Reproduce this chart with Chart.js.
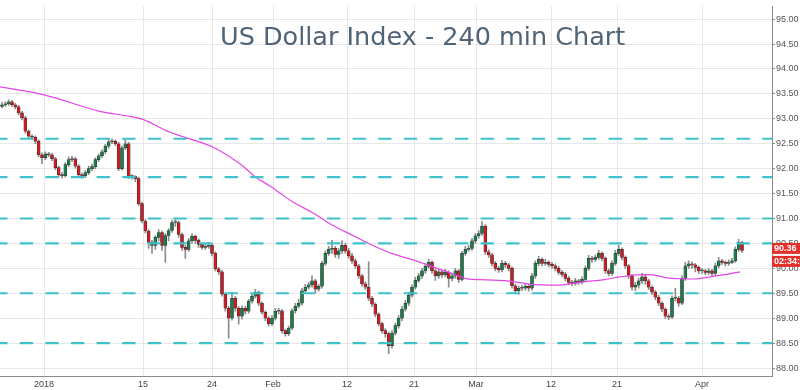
<!DOCTYPE html>
<html>
<head>
<meta charset="utf-8">
<script src="https://cdn.jsdelivr.net/npm/chart.js@4.4.1/dist/chart.umd.min.js"></script>
<style>
  html, body { margin:0; padding:0; background:#ffffff; }
  #wrap { position:relative; width:800px; height:390px; overflow:hidden; }
  #title { position:absolute; left:220px; top:24px; font-family:"DejaVu Sans", Verdana, sans-serif; font-size:25.5px; line-height:25px; color:#4f6477; white-space:nowrap; pointer-events:none; }
</style>
</head>
<body>
<div id="wrap">
  <canvas id="c" width="800" height="390"></canvas>
  <div id="title">US Dollar Index - 240 min Chart</div>
</div>
<script>
// ---- Data ----
const opens = [
93.25,93.28,93.30,93.34,93.28,93.24,93.12,93.02,92.75,92.65,92.63,92.55,92.28,92.22,92.30,92.28,92.20,92.02,91.88,91.86,
92.08,92.18,92.20,92.05,91.88,91.86,91.92,92.00,92.04,92.18,92.26,92.34,92.45,92.54,92.55,92.50,92.00,92.42,92.50,91.84,
91.84,91.80,91.30,90.95,90.75,90.52,90.46,90.62,90.72,90.46,90.66,90.76,90.92,90.92,90.68,90.42,90.38,90.55,90.64,90.56,
90.48,90.42,90.44,90.46,90.30,89.99,89.93,89.48,89.20,89.00,89.40,89.20,89.04,89.20,89.14,89.34,89.44,89.52,89.30,89.12,
89.00,88.89,89.00,89.14,89.15,88.75,88.69,88.80,89.15,89.24,89.30,89.55,89.62,89.67,89.75,89.58,89.64,90.10,90.30,90.38,
90.40,90.28,90.35,90.46,90.35,90.25,90.15,90.05,89.85,89.69,89.62,89.40,89.28,89.08,88.89,88.75,88.69,88.45,88.70,88.85,
89.00,89.18,89.30,89.46,89.62,89.76,89.85,89.95,90.04,90.12,89.95,89.85,89.93,89.87,89.92,89.80,89.85,89.95,89.78,90.30,
90.38,90.40,90.55,90.65,90.70,90.85,90.33,90.27,90.10,90.00,89.97,90.10,90.07,90.00,89.65,89.55,89.60,89.60,89.64,89.60,
89.85,90.10,90.18,90.10,90.12,90.08,90.05,90.00,89.92,89.88,89.80,89.72,89.70,89.75,89.73,89.78,90.00,90.20,90.18,90.22,
90.30,90.20,89.95,89.90,90.10,90.30,90.38,90.22,90.05,89.85,89.62,89.66,89.75,89.83,89.75,89.62,89.52,89.42,89.30,89.18,
89.04,89.02,89.40,89.40,89.30,89.80,90.05,90.09,90.07,90.02,89.95,89.95,89.92,89.95,89.90,90.05,90.15,90.12,90.10,90.12,
90.15,90.38,90.52
];
const highs = [
93.33,93.34,93.38,93.37,93.31,93.27,93.15,93.05,92.78,92.68,92.66,92.58,92.32,92.34,92.33,92.31,92.23,92.05,91.92,92.12,
92.24,92.25,92.23,92.08,91.91,91.96,92.05,92.09,92.22,92.30,92.38,92.49,92.60,92.60,92.58,92.53,92.46,92.58,92.53,91.88,
91.86,91.83,91.33,90.98,90.78,90.56,90.66,90.78,90.75,90.70,90.80,90.97,90.98,90.95,90.71,90.46,90.60,90.70,90.67,90.59,
90.51,90.50,90.52,90.49,90.33,90.02,89.96,89.51,89.24,89.52,89.44,89.24,89.25,89.24,89.38,89.50,89.58,89.55,89.33,89.15,
89.03,89.05,89.20,89.20,89.18,88.78,88.84,89.19,89.30,89.38,89.60,89.68,89.72,89.85,89.78,89.68,90.14,90.35,90.44,90.56,
90.44,90.40,90.55,90.50,90.40,90.30,90.19,90.08,89.88,89.73,90.13,89.44,89.31,89.11,88.92,88.79,88.72,88.75,88.90,89.05,
89.24,89.36,89.52,89.67,89.82,89.90,90.00,90.10,90.18,90.15,89.98,89.98,89.96,89.98,89.95,89.90,90.00,89.98,90.34,90.44,
90.46,90.60,90.70,90.76,90.94,90.88,90.37,90.30,90.14,90.04,90.16,90.14,90.10,90.03,89.68,89.65,89.66,89.70,89.68,89.90,
90.15,90.24,90.21,90.18,90.15,90.12,90.09,90.04,89.96,89.92,89.84,89.76,89.80,89.78,89.83,90.05,90.26,90.24,90.27,90.36,
90.33,90.23,89.99,90.15,90.36,90.46,90.41,90.25,90.08,89.88,89.72,89.80,89.90,89.86,89.78,89.65,89.56,89.46,89.33,89.21,
89.08,89.45,89.60,89.44,89.85,90.12,90.15,90.13,90.10,90.05,90.00,89.98,90.00,89.98,90.10,90.22,90.18,90.15,90.17,90.20,
90.43,90.58,90.54
];
const lows = [
93.22,93.25,93.27,93.25,93.20,93.08,92.98,92.71,92.61,92.58,92.50,92.24,92.10,92.18,92.24,92.16,91.98,91.83,91.81,91.83,
92.04,92.14,92.01,91.84,91.81,91.82,91.88,91.96,92.00,92.14,92.22,92.30,92.41,92.50,92.46,91.96,91.97,92.38,91.80,91.79,
91.74,91.26,90.91,90.71,90.40,90.30,90.38,90.55,90.36,90.12,90.55,90.72,90.84,90.62,90.36,90.20,90.34,90.50,90.50,90.42,
90.38,90.38,90.40,90.25,89.95,89.88,89.44,89.14,88.60,88.96,89.14,88.88,88.98,89.08,89.10,89.30,89.40,89.25,89.08,88.95,
88.84,88.85,88.96,89.08,88.70,88.64,88.65,88.77,89.10,89.20,89.26,89.50,89.58,89.62,89.50,89.54,89.60,90.06,90.26,90.30,
90.22,90.20,90.30,90.30,90.20,90.10,90.00,89.80,89.64,89.57,89.35,89.23,89.03,88.84,88.70,88.62,88.29,88.40,88.66,88.80,
88.95,89.14,89.25,89.42,89.58,89.72,89.80,89.90,90.00,89.90,89.76,89.80,89.82,89.83,89.62,89.75,89.80,89.72,89.75,90.26,
90.34,90.36,90.50,90.60,90.66,90.28,90.22,90.05,89.95,89.92,89.93,90.02,89.95,89.60,89.50,89.48,89.55,89.56,89.54,89.56,
89.80,90.05,90.05,90.06,90.03,90.00,89.95,89.88,89.83,89.75,89.67,89.65,89.66,89.68,89.69,89.74,89.96,90.12,90.14,90.18,
90.15,89.90,89.85,89.86,90.06,90.26,90.17,90.00,89.80,89.56,89.55,89.60,89.70,89.68,89.57,89.47,89.37,89.25,89.13,88.99,
88.97,88.99,89.34,89.24,89.27,89.76,90.00,90.00,89.93,89.90,89.90,89.87,89.88,89.85,89.86,90.01,90.08,90.05,90.06,90.10,
90.12,90.34,90.32
];
const closes = [
93.28,93.30,93.34,93.28,93.24,93.12,93.02,92.75,92.65,92.63,92.55,92.28,92.22,92.30,92.28,92.20,92.02,91.88,91.86,92.08,
92.18,92.20,92.05,91.88,91.86,91.92,92.00,92.04,92.18,92.26,92.34,92.45,92.54,92.55,92.50,92.00,92.42,92.50,91.84,91.84,
91.80,91.30,90.95,90.75,90.52,90.46,90.62,90.72,90.46,90.66,90.76,90.92,90.92,90.68,90.42,90.38,90.55,90.64,90.56,90.48,
90.42,90.44,90.46,90.30,89.99,89.93,89.48,89.20,89.00,89.40,89.20,89.04,89.20,89.14,89.34,89.44,89.52,89.30,89.12,89.00,
88.89,89.00,89.14,89.15,88.75,88.69,88.80,89.15,89.24,89.30,89.55,89.62,89.67,89.75,89.58,89.64,90.10,90.30,90.38,90.40,
90.28,90.35,90.46,90.35,90.25,90.15,90.05,89.85,89.69,89.62,89.40,89.28,89.08,88.89,88.75,88.69,88.45,88.70,88.85,89.00,
89.18,89.30,89.46,89.62,89.76,89.85,89.95,90.04,90.12,89.95,89.85,89.93,89.87,89.92,89.80,89.85,89.95,89.78,90.30,90.38,
90.40,90.55,90.65,90.70,90.85,90.33,90.27,90.10,90.00,89.97,90.10,90.07,90.00,89.65,89.55,89.60,89.60,89.64,89.60,89.85,
90.10,90.18,90.10,90.12,90.08,90.05,90.00,89.92,89.88,89.80,89.72,89.70,89.75,89.73,89.78,90.00,90.20,90.18,90.22,90.30,
90.20,89.95,89.90,90.10,90.30,90.38,90.22,90.05,89.85,89.62,89.66,89.75,89.83,89.75,89.62,89.52,89.42,89.30,89.18,89.04,
89.02,89.40,89.40,89.30,89.80,90.05,90.09,90.07,90.02,89.95,89.95,89.92,89.95,89.90,90.05,90.15,90.12,90.10,90.12,90.15,
90.38,90.52,90.36
];
// moving average line, read at sample positions (x = candle index)
const maX = [-0.6,12.6,29.4,38.4,42.3,50.4,63,71.4,75.9,80.4,83.4,87.3,93.3,99.3,105.3,111.3,117.3,123.3,129.3,135.3,139.5,145.5,151.5,157.5,161.4,168.3,174.3,180.3,185.4,190.5,195.3,199.5,204.3,208.5,212.4,216.3,221.4];
const maY = [93.64,93.48,93.15,93.05,92.99,92.73,92.44,92.10,91.84,91.65,91.51,91.33,91.11,90.86,90.66,90.46,90.29,90.17,90.03,89.89,89.79,89.77,89.75,89.69,89.67,89.67,89.73,89.77,89.83,89.87,89.87,89.81,89.79,89.79,89.83,89.87,89.93];
// horizontal support / resistance levels
const levels = [92.60, 91.83, 91.00, 90.50, 89.50, 88.50];
// axis ticks
const yTicks = [88,88.5,89,89.5,90,90.5,91,91.5,92,92.5,93,93.5,94,94.5,95];
const xTickPos = [12.6, 42.3, 63.0, 81.3, 103.5, 123.6, 142.2, 164.7, 184.5, 210.0];
const xTickLabels = ['2018','15','24','Feb','12','21','Mar','12','21','Apr'];
const lastPrice = '90.36';
const countdown = '02:34:29';

// ---- Chart ----
const UP = '#1f7a4d', DOWN = '#c81e24';
const overlay = {
  id: 'overlay',
  afterDatasetsDraw(chart) {
    const {ctx, chartArea: a, scales: {y}} = chart;
    ctx.save();
    ctx.strokeStyle = '#3ec3ca';
    ctx.lineWidth = 2.2;
    ctx.setLineDash([13.3, 12.3]);
    ctx.lineDashOffset = 5.8;
    levels.forEach(v => {
      const py = y.getPixelForValue(v);
      ctx.beginPath();
      ctx.moveTo(a.left, py);
      ctx.lineTo(a.right, py);
      ctx.stroke();
    });
    ctx.restore();
  },
  afterDraw(chart) {
    const {ctx, chartArea: a, scales: {y}} = chart;
    const py = y.getPixelForValue(closes[closes.length - 1]);
    ctx.save();
    ctx.fillStyle = '#e3302b';
    ctx.fillRect(a.right, py - 7.5, 30, 11);
    ctx.fillRect(a.right, py + 5.5, 30, 11);
    ctx.fillStyle = '#ffffff';
    ctx.font = 'bold 9px "Liberation Sans", Arial, sans-serif';
    ctx.textBaseline = 'middle';
    ctx.textAlign = 'left';
    ctx.fillText(lastPrice, a.right + 2, py - 2);
    ctx.fillText(countdown, a.right + 2, py + 11);
    ctx.restore();
  }
};

new Chart(document.getElementById('c'), {
  type: 'bar',
  data: {
    datasets: [
      {
        type: 'line',
        data: maX.map((x, i) => ({x: x, y: maY[i]})),
        borderColor: '#e645e6',
        borderWidth: 1.2,
        pointRadius: 0,
        tension: 0.35,
        order: 1
      },
      {
        data: closes.map((c, i) => ({x: i, y: [lows[i], highs[i]]})),
        backgroundColor: '#8c8c8c',
        barThickness: 1,
        grouped: false,
        order: 3
      },
      {
        data: closes.map((c, i) => ({x: i, y: [opens[i], c]})),
        backgroundColor: closes.map((c, i) => c >= opens[i] ? UP : DOWN),
        borderColor: '#2a2a2a',
        borderWidth: 0.5,
        borderSkipped: false,
        barThickness: 3,
        minBarLength: 1,
        grouped: false,
        order: 2
      }
    ]
  },
  options: {
    responsive: false,
    animation: false,
    layout: {padding: 0},
    plugins: {legend: {display: false}, tooltip: {enabled: false}, title: {display: false}},
    scales: {
      x: {
        type: 'linear',
        min: -0.6,
        max: 231,
        offset: false,
        afterBuildTicks: s => { s.ticks = xTickPos.map(v => ({value: v})); },
        afterFit: s => { s.height = 14; },
        grid: {color: '#e7e7e7', drawTicks: false, offset: false},
        border: {color: '#8a8a8a'},
        ticks: {
          autoSkip: false, maxRotation: 0, minRotation: 0, padding: 3,
          font: {family: '"Liberation Sans", Arial, sans-serif', size: 9},
          color: '#444',
          callback: (v, i) => xTickLabels[i]
        }
      },
      y: {
        type: 'linear',
        position: 'right',
        min: 87.84,
        max: 95.256,
        afterBuildTicks: s => { s.ticks = yTicks.map(v => ({value: v})); },
        afterFit: s => { s.width = 28; },
        grid: {color: '#e7e7e7', tickLength: 3, tickColor: '#8a8a8a', offset: false},
        border: {color: '#8a8a8a'},
        ticks: {
          padding: 1,
          font: {family: '"Liberation Sans", Arial, sans-serif', size: 9},
          color: '#555',
          callback: v => Number(v).toFixed(2)
        }
      }
    }
  },
  plugins: [overlay]
});
</script>
</body>
</html>
